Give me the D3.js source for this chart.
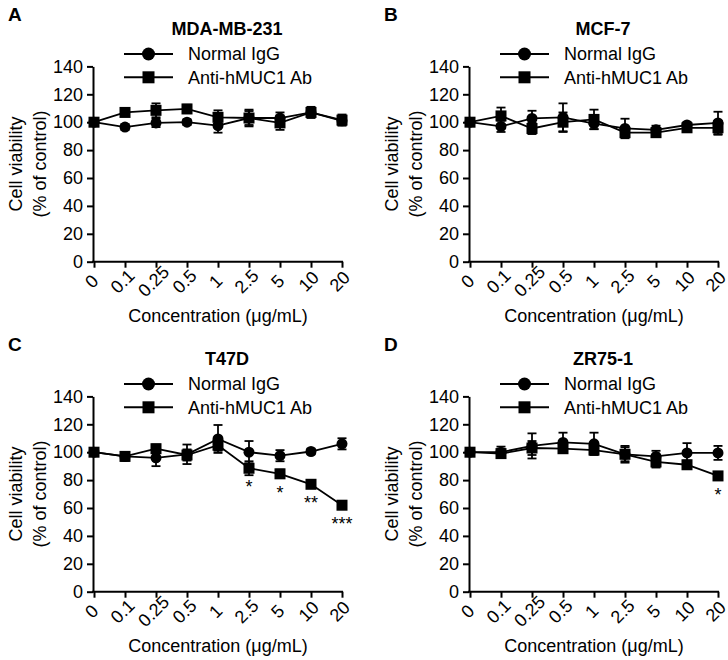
<!DOCTYPE html>
<html><head><meta charset="utf-8">
<script src="https://cdn.jsdelivr.net/npm/d3@7"></script>
<style>
body{margin:0;background:#fff}
text{font-family:"Liberation Sans",Arial,Helvetica,sans-serif;fill:#000}
</style>
</head><body>
<svg id="chart" width="728" height="660"></svg>
<script>
// ---------- data ----------
const concentrations = ["0","0.1","0.25","0.5","1","2.5","5","10","20"];
const yTicks = [0,20,40,60,80,100,120,140];
const panelLetters = ["A","B","C","D"];
const cellLines = ["MDA-MB-231","MCF-7","T47D","ZR75-1"];
const seriesNames = ["Normal IgG","Anti-hMUC1 Ab"];
const xAxisTitle = "Concentration (\u03bcg/mL)";
const yAxisTitle = ["Cell viability","(% of control)"];

// MDA-MB-231
const iggA     = [100, 96.5, 99.5, 100, 97.5, 103, 103, 107, 101];
const iggErrA  = [0, 2, 3, 2, 5, 5, 4, 3, 3];
const antiA    = [100, 107, 108.5, 109.5, 103.5, 103, 99.5, 107, 101.5];
const antiErrA = [1, 2, 5, 3, 5, 6, 5, 4, 4];
// MCF-7
const iggB     = [100, 97, 102.7, 103.5, 99, 95.5, 94.5, 98, 99.5];
const iggErrB  = [0, 4, 5.5, 10, 4, 7, 3, 2, 8];
const antiB    = [100, 104.5, 95.5, 100, 102, 92.5, 92.5, 96, 96];
const antiErrB = [1, 6, 4, 7, 7, 3, 3, 2, 5];
// T47D
const iggC     = [100, 97, 96, 98.5, 109.5, 100, 97.5, 100.5, 106];
const iggErrC  = [0, 3, 6, 7, 10, 8, 4, 2, 4];
const antiC    = [100, 97, 102.5, 98, 105, 88.5, 84.5, 77, 62];
const antiErrC = [1, 3, 3, 4, 4, 5, 3, 2, 2];
const starsC   = ["","","","","","*","*","**","***"];
// ZR75-1
const iggD     = [100, 100, 104.5, 107, 106, 98.5, 97, 99.5, 99.5];
const iggErrD  = [0, 4, 9, 7, 8, 6, 4, 7, 5];
const antiD    = [100, 99, 103, 102.5, 101.5, 98.5, 93, 91, 83];
const antiErrD = [1, 3, 5, 3, 3, 5, 4, 3, 2];
const starsD   = ["","","","","","","","","*"];

const panels = [
  {igg:iggA, iggErr:iggErrA, anti:antiA, antiErr:antiErrA, stars:null},
  {igg:iggB, iggErr:iggErrB, anti:antiB, antiErr:antiErrB, stars:null},
  {igg:iggC, iggErr:iggErrC, anti:antiC, antiErr:antiErrC, stars:starsC},
  {igg:iggD, iggErr:iggErrD, anti:antiD, antiErr:antiErrD, stars:starsD}
];

// ---------- layout ----------
const offsets = [[0,0],[376,0],[0,330],[376,330]];
const FS = 18;
const svg = d3.select("#chart");

const x = d3.scalePoint().domain(concentrations).range([94, 342]);
const y = d3.scaleLinear().domain([0,140]).range([261.7, 66.4]);

function marker(sel, type, size){
  if(type === "circle"){
    sel.append("circle").attr("r", size/2).attr("fill","#000");
  } else {
    sel.append("rect").attr("x",-size/2).attr("y",-size/2)
      .attr("width",size).attr("height",size).attr("fill","#000");
  }
}

panels.forEach((p, i) => {
  const g = svg.append("g").attr("transform",`translate(${offsets[i][0]},${offsets[i][1]})`);

  // panel letter
  g.append("text").attr("x",8).attr("y",21).attr("font-size",19).attr("font-weight","bold").text(panelLetters[i]);
  // title
  g.append("text").attr("x",227).attr("y",35).attr("text-anchor","middle")
    .attr("font-size",FS).attr("font-weight","bold").text(cellLines[i]);

  // legend
  const legendY = [54, 77.3];
  ["circle","square"].forEach((t, k) => {
    const lg = g.append("g").attr("transform",`translate(0,${legendY[k]})`);
    lg.append("line").attr("x1",124).attr("x2",173).attr("stroke","#000").attr("stroke-width",2);
    const m = lg.append("g").attr("transform","translate(148.5,0)");
    marker(m, t, t === "circle" ? 13 : 12);
    lg.append("text").attr("x",188).attr("dy","0.35em").attr("font-size",FS).text(seriesNames[k]);
  });

  // y axis
  const ya = g.append("g").attr("transform","translate(93,0)")
    .call(d3.axisLeft(y).tickValues(yTicks).tickSize(6).tickSizeOuter(0).tickPadding(4));
  ya.selectAll("path,line").attr("stroke","#000").attr("stroke-width",2);
  ya.selectAll("text").attr("font-size",FS).attr("font-family",'"Liberation Sans",Arial,sans-serif');

  // x axis
  const xa = g.append("g").attr("transform",`translate(0,${y(0)})`)
    .call(d3.axisBottom(x).tickSize(6).tickSizeOuter(0));
  xa.select(".domain").remove();
  xa.append("line").attr("x1",92).attr("x2",343).attr("stroke","#000").attr("stroke-width",2);
  xa.selectAll(".tick line").attr("stroke","#000").attr("stroke-width",2);
  xa.selectAll(".tick text")
    .attr("x",0).attr("y",0).attr("dy","0.35em")
    .attr("transform","translate(-3,19.5) rotate(-45)")
    .attr("text-anchor","middle")
    .attr("font-size",FS).attr("font-family",'"Liberation Sans",Arial,sans-serif');

  // axis titles
  g.append("text").attr("x",218).attr("y",y(0)+60).attr("text-anchor","middle").attr("font-size",FS).text(xAxisTitle);
  g.append("text").attr("transform","translate(22,164) rotate(-90)").attr("text-anchor","middle").attr("font-size",FS).text(yAxisTitle[0]);
  g.append("text").attr("transform","translate(46,164) rotate(-90)").attr("text-anchor","middle").attr("font-size",FS).text(yAxisTitle[1]);

  // series
  const series = [
    {vals:p.igg, errs:p.iggErr, type:"circle"},
    {vals:p.anti, errs:p.antiErr, type:"square"}
  ];
  const line = d3.line().x((d,j)=>x(concentrations[j])).y(d=>y(d));
  series.forEach(s => {
    const sg = g.append("g");
    s.vals.forEach((v,j) => {
      const e = s.errs[j];
      if(e <= 0) return;
      const cx = x(concentrations[j]);
      sg.append("line").attr("x1",cx).attr("x2",cx).attr("y1",y(v-e)).attr("y2",y(v+e)).attr("stroke","#000").attr("stroke-width",1.8);
      [v-e, v+e].forEach(vv => {
        sg.append("line").attr("x1",cx-4.5).attr("x2",cx+4.5).attr("y1",y(vv)).attr("y2",y(vv)).attr("stroke","#000").attr("stroke-width",1.8);
      });
    });
    sg.append("path").datum(s.vals).attr("d",line).attr("fill","none").attr("stroke","#000").attr("stroke-width",1.8);
    s.vals.forEach((v,j) => {
      const m = sg.append("g").attr("transform",`translate(${x(concentrations[j])},${y(v)})`);
      marker(m, s.type, 11);
    });
  });

  // significance stars
  if(p.stars){
    p.stars.forEach((st,j) => {
      if(!st) return;
      g.append("text").attr("x",x(concentrations[j])).attr("y",y(p.anti[j])+25)
        .attr("text-anchor","middle").attr("font-size",FS).text(st);
    });
  }
});
</script>
</body></html>
